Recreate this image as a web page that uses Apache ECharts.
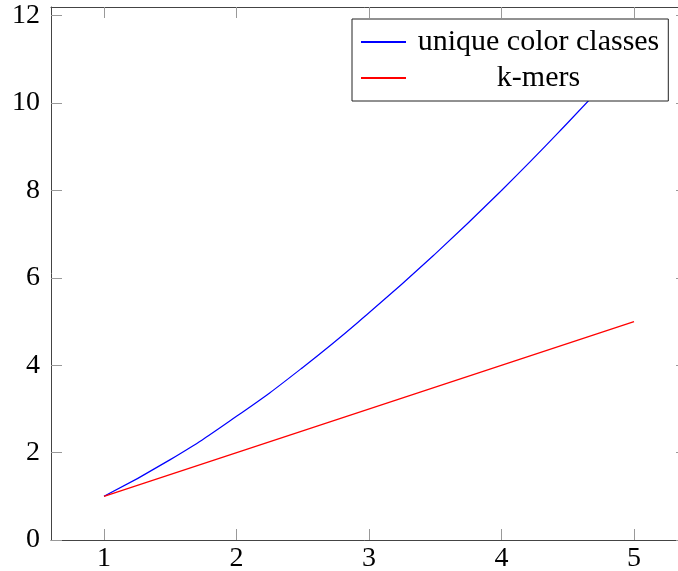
<!DOCTYPE html>
<html>
<head>
<meta charset="utf-8">
<script src="https://cdn.jsdelivr.net/npm/echarts@6/dist/echarts.min.js"></script>
<style>
  html, body { margin: 0; padding: 0; background: #fff; }
  #chart { width: 678px; height: 571px; }
</style>
</head>
<body>
<div id="chart"></div>
<script>
// values
var xTicks = [1, 2, 3, 4, 5];
var yTicks = [0, 2, 4, 6, 8, 10, 12];

var colorX = [1, 1.5, 2, 2.5, 3, 3.5, 4, 4.5, 5];
var colorClasses = [1, 1.84, 2.83, 3.95, 5.2, 6.55, 8, 9.55, 11.18];

var kmerX = [1, 5];
var kmers = [1, 5];

function pairs(xs, ys) {
  return xs.map(function (x, i) { return [x, ys[i]]; });
}

var chart = echarts.init(document.getElementById('chart'), null, { renderer: 'canvas' });

var font = 'Liberation Serif';

// shared axis look (pgfplots style: ticks inside, box on all sides)
function xAx(pos, labels) {
  return {
    type: 'value',
    position: pos,
    min: 0.6,
    max: 5.4,
    axisLine: { show: true, onZero: false, lineStyle: { color: '#444', width: 1 } },
    axisTick: { show: true, inside: true, length: 11, customValues: xTicks, lineStyle: { color: '#999' } },
    axisLabel: { show: labels, customValues: xTicks, margin: 5, color: '#000', fontFamily: font, fontSize: 28 },
    splitLine: { show: false }
  };
}
function yAx(pos, labels) {
  return {
    type: 'value',
    position: pos,
    min: 0,
    max: 12.2,
    axisLine: { show: true, onZero: false, lineStyle: { color: '#444', width: 1 } },
    axisTick: { show: true, inside: true, length: 11, customValues: yTicks, lineStyle: { color: '#999' } },
    axisLabel: { show: labels, customValues: yTicks, margin: 11, color: '#000', fontFamily: font, fontSize: 28 },
    splitLine: { show: false }
  };
}

var option = {
  animation: false,
  backgroundColor: '#fff',
  grid: { left: 51, top: 7, width: 636, height: 533, outerBoundsMode: 'none', containLabel: false },
  xAxis: [xAx('bottom', true), xAx('top', false)],
  yAxis: [yAx('left', true), yAx('right', false)],
  legend: {
    orient: 'vertical',
    left: 352,
    top: 19,
    z: 10,
    backgroundColor: '#fff',
    borderColor: '#222',
    borderWidth: 1,
    borderRadius: 0,
    padding: [8, 9, 8, 9],
    itemGap: 6,
    itemWidth: 45,
    itemHeight: 2,
    icon: 'rect',
    formatter: function (name) { return '{t|' + name + '}'; },
    textStyle: {
      rich: {
        t: { width: 255, align: 'center', fontFamily: font, fontSize: 30, color: '#000' }
      }
    },
    data: ['unique color classes', 'k-mers']
  },
  series: [
    {
      name: 'unique color classes',
      type: 'line',
      smooth: true,
      symbol: 'none',
      color: '#0000ff',
      lineStyle: { width: 1.2, color: '#0000ff' },
      data: pairs(colorX, colorClasses)
    },
    {
      name: 'k-mers',
      type: 'line',
      symbol: 'none',
      color: '#ff0000',
      lineStyle: { width: 1.2, color: '#ff0000' },
      data: pairs(kmerX, kmers)
    }
  ]
};

chart.setOption(option);
</script>
</body>
</html>
